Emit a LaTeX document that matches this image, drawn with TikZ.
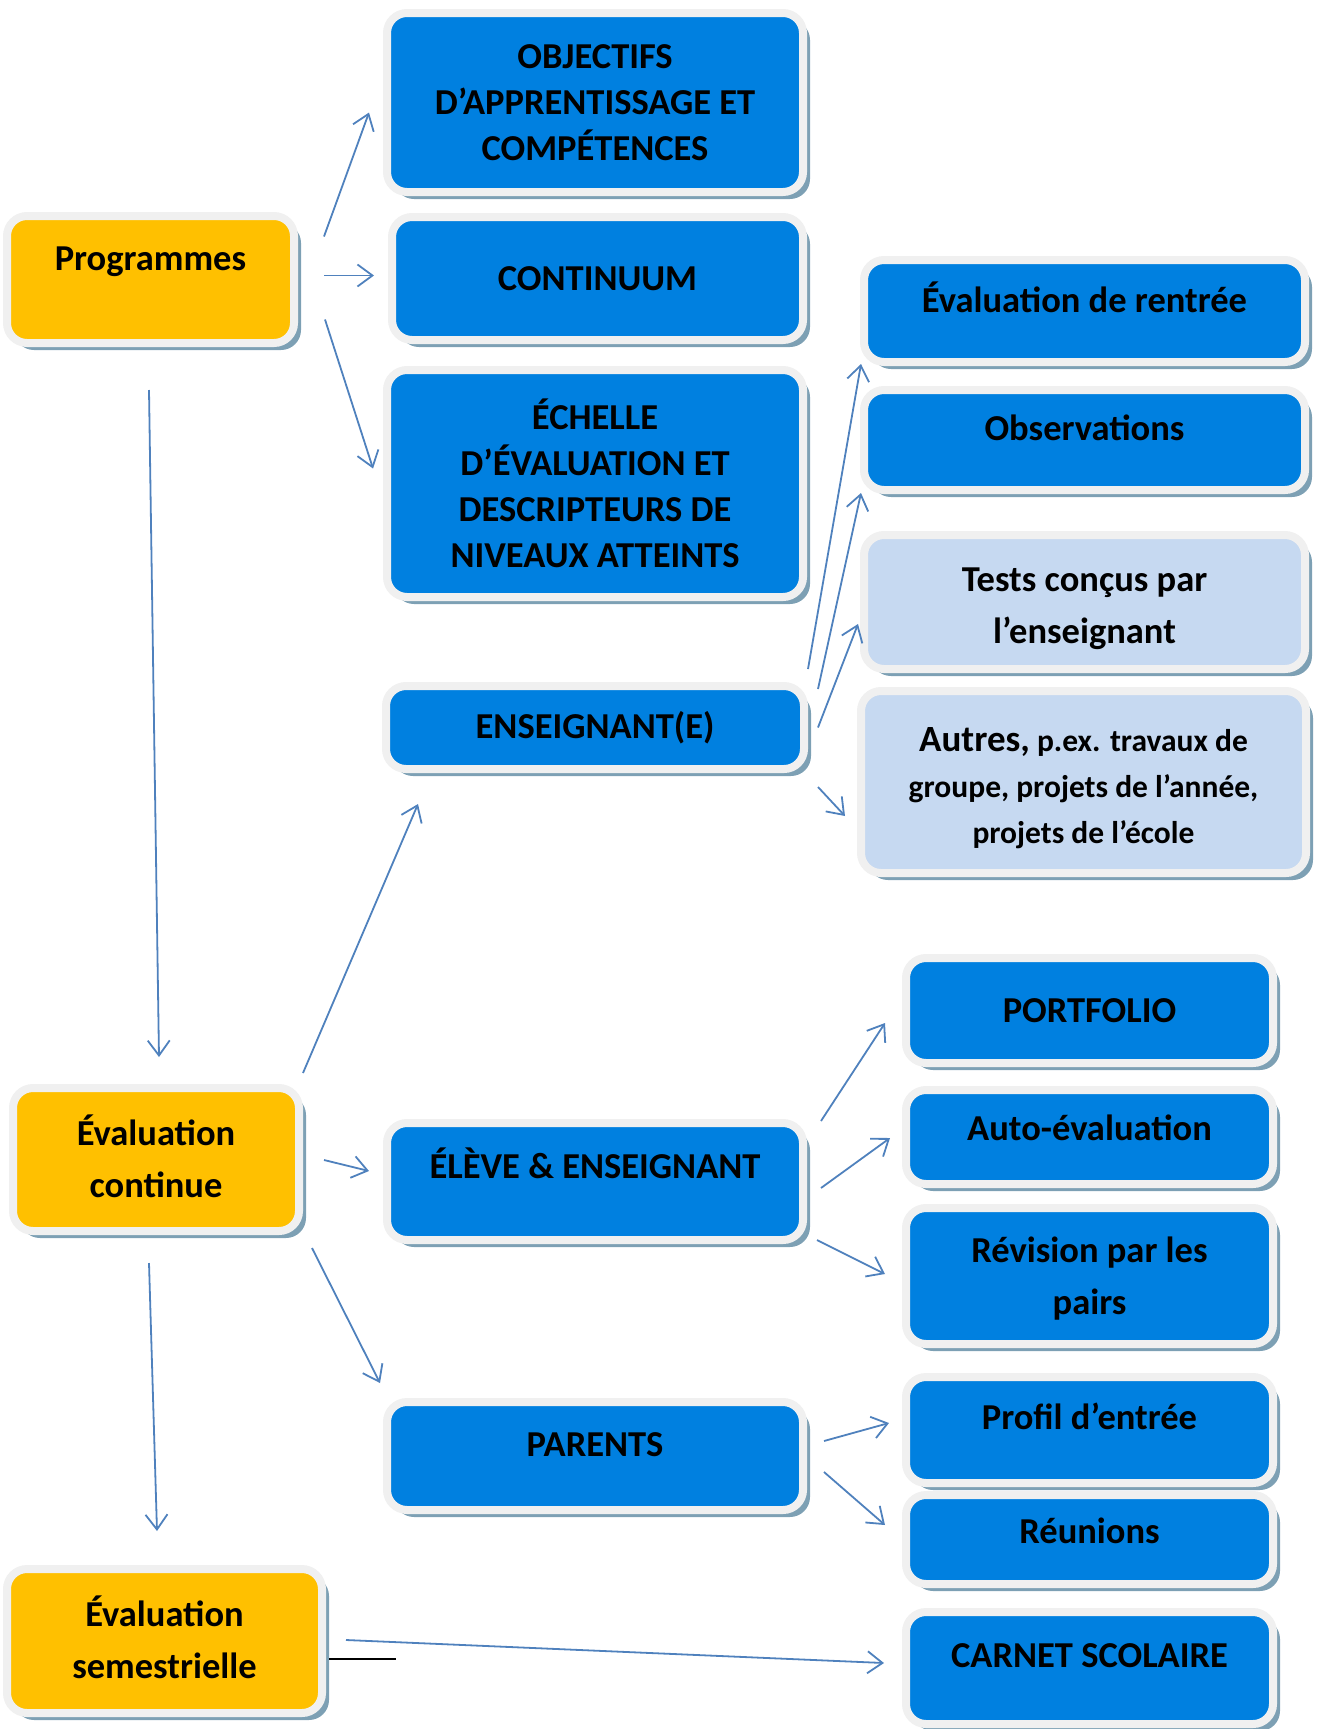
\documentclass[tikz,border=0pt]{standalone}
\usepackage{fontspec}
\setmainfont{Carlito}
\usetikzlibrary{arrows.meta,shadows,calc}

\definecolor{boxblue}{RGB}{0,128,224}
\definecolor{paleblue}{RGB}{198,217,241}
\definecolor{gold}{RGB}{255,192,0}
\definecolor{rim}{RGB}{240,240,240}
\definecolor{shade}{RGB}{125,160,180}
\definecolor{linkblue}{RGB}{79,129,189}

\begin{document}
\begin{tikzpicture}[x=1pt,y=-1pt,
  box/.style={draw=rim,line width=8pt,rounded corners=20pt,align=center,text=black,
    font=\bfseries\fontsize{36.5}{46}\selectfont,
    drop shadow={shadow xshift=7pt,shadow yshift=-7pt,fill=shade,opacity=1}},
  blue node/.style={box,fill=boxblue},
  pale node/.style={box,fill=paleblue},
  gold node/.style={box,fill=gold},
  lift/.style={text height=24pt,text depth=#1},
  wide/.style={font=\bfseries\fontsize{36.5}{52}\selectfont},
  arr/.style={draw=linkblue,line width=1.8pt,-{Straight Barb[length=15pt,width=22pt]}}]

  \useasboundingbox (0,0) rectangle (1319,1729);

  % left column
  \node[gold node,minimum width=287pt,minimum height=127pt,lift=42pt] (prog) at (150.5,279.5) {Programmes};
  \node[gold node,wide,minimum width=286pt,minimum height=143pt] (evc) at (156,1159.5) {Évaluation\\continue\rule[-6pt]{0pt}{0pt}};
  \node[gold node,wide,minimum width=315pt,minimum height=144pt] (evs) at (164.5,1641) {Évaluation\\semestrielle\rule[-8pt]{0pt}{0pt}};

  % middle column
  \node[blue node,minimum width=416pt,minimum height=179pt] (obj) at (595,102.5) {OBJECTIFS\\D’APPRENTISSAGE ET\\COMPÉTENCES};
  \node[blue node,minimum width=411pt,minimum height=123pt] (cont) at (597.5,278.5) {CONTINUUM};
  \node[blue node,minimum width=416pt,minimum height=227pt] (ech) at (595,483.5) {ÉCHELLE\\D’ÉVALUATION ET\\DESCRIPTEURS DE\\NIVEAUX ATTEINTS};
  \node[blue node,minimum width=418pt,minimum height=83pt] (ens) at (595,727.5) {ENSEIGNANT(E)};
  \node[blue node,minimum width=416pt,minimum height=117pt,lift=29.5pt] (eleve) at (595,1181.5) {ÉLÈVE \& ENSEIGNANT};
  \node[blue node,minimum width=416pt,minimum height=108pt,lift=22.5pt] (par) at (595,1456) {PARENTS};

  % right column, upper group
  \node[blue node,minimum width=441pt,minimum height=102pt,lift=20.5pt] (rent) at (1084.5,311) {Évaluation de rentrée};
  \node[blue node,minimum width=441pt,minimum height=100pt,lift=22.5pt] (obs) at (1084.5,440) {Observations};
  \node[pale node,wide,minimum width=441pt,minimum height=134pt] (tests) at (1084.5,602) {\rule{0pt}{38pt}Tests conçus par\\l’enseignant};
  \node[pale node,minimum width=445pt,minimum height=182pt,font=\bfseries\fontsize{31.5}{46}\selectfont] (autres) at (1083.5,782)
    {\rule{0pt}{36pt}{\fontsize{37}{46}\selectfont Autres,} p.ex. travaux de\\groupe, projets de l’année,\\projets de l’école};

  % right column, lower group
  \node[blue node,minimum width=367pt,minimum height=105pt] (port) at (1089.5,1010.5) {PORTFOLIO};
  \node[blue node,minimum width=367pt,minimum height=94pt,lift=16.5pt] (auto) at (1089.5,1137) {Auto-évaluation};
  \node[blue node,wide,minimum width=367pt,minimum height=136pt] (rev) at (1089.5,1276) {\rule{0pt}{30pt}Révision par les\\pairs};
  \node[blue node,minimum width=367pt,minimum height=106pt,lift=24.5pt] (prof) at (1089.5,1430) {Profil d’entrée};
  \node[blue node,minimum width=367pt,minimum height=89pt,lift=15.5pt] (reun) at (1089.5,1539.5) {Réunions};
  \node[blue node,minimum width=367pt,minimum height=112pt,lift=24.5pt] (carnet) at (1089.5,1668) {CARNET SCOLAIRE};

  \path[every edge/.style={arr}]
    ($(prog.east)+(26,-43)$) edge ($(obj.west)+(-14,10)$)
    ($(prog.east)+(26,-4)$) edge ($(cont.west)+(-14,-3)$)
    ($(prog.east)+(27,40)$) edge ($(ech.west)+(-10,-15)$)
    ($(prog.south)+(-1.5,43)$) edge ($(evc.north)+(3,-27)$)
    ($(evc.north east)+(0,-11)$) edge ($(ens.south west)+(36,31)$)
    ($(evc.east)+(21,0.5)$) edge ($(eleve.west)+(-14,-10.5)$)
    ($(evc.south east)+(9,13)$) edge ($(par.north west)+(-3,-15)$)
    ($(evc.south)+(-7,28)$) edge ($(evs.north)+(-7.5,-34)$)
    ($(evs.east)+(20,-1)$) edge ($(carnet.west)+(-18,-5)$)
    ($(ens.north east)+(0,-13)$) edge ($(rent.south west)+(1,-2)$)
    ($(ens.north east)+(10,7)$) edge ($(obs.south west)+(1,-1)$)
    ($(ens.east)+(10,0)$) edge ($(tests.west)+(-2,22)$)
    ($(ens.south east)+(10,14)$) edge ($(autres.west)+(-12,34)$)
    ($(eleve.north east)+(14,2)$) edge ($(port.west)+(-17,12.5)$)
    ($(eleve.east)+(14,6.5)$) edge ($(auto.west)+(-12,1)$)
    ($(eleve.south east)+(10,-4)$) edge ($(rev.west)+(-17,-2)$)
    ($(par.east)+(17,-15)$) edge ($(prof.west)+(-13,-7)$)
    ($(par.east)+(17,16)$) edge ($(reun.west)+(-17,-14.5)$);

  \draw[line width=1.8pt] ($(evs.east)+(3,18)$) -- ++(67,0);
\end{tikzpicture}
\end{document}
